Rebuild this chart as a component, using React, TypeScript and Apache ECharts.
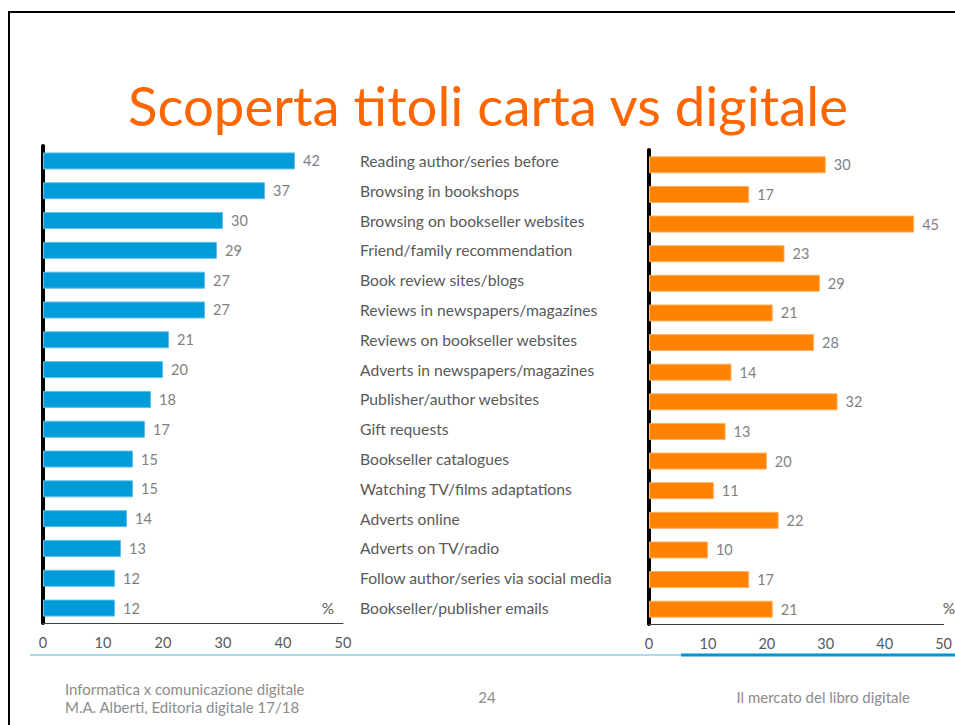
import React, { useEffect, useRef } from "react";
import * as echarts from "echarts";

const categories = [
  "Reading author/series before",
  "Browsing in bookshops",
  "Browsing on bookseller websites",
  "Friend/family recommendation",
  "Book review sites/blogs",
  "Reviews in newspapers/magazines",
  "Reviews on bookseller websites",
  "Adverts in newspapers/magazines",
  "Publisher/author websites",
  "Gift requests",
  "Bookseller catalogues",
  "Watching TV/films adaptations",
  "Adverts online",
  "Adverts on TV/radio",
  "Follow author/series via social media",
  "Bookseller/publisher emails",
];
const paperValues = [42, 37, 30, 29, 27, 27, 21, 20, 18, 17, 15, 15, 14, 13, 12, 12];
const digitalValues = [30, 17, 45, 23, 29, 21, 28, 14, 32, 13, 20, 11, 22, 10, 17, 21];
const axisMin = 0;
const axisMax = 50;
const axisStep = 10;

const FONT = "Lato, 'Open Sans', sans-serif";
const GREY = "#595959";

export default function App() {
  const ref = useRef<HTMLDivElement>(null);
  useEffect(() => {
    if (!ref.current) return;
    const chart = echarts.init(ref.current, undefined, { renderer: "svg" });
    const xAxisCommon = {
      type: "value" as const,
      min: axisMin,
      max: axisMax,
      interval: axisStep,
      axisLine: { show: true, lineStyle: { color: "#404040", width: 1 } },
      axisTick: { show: false },
      splitLine: { show: false },
      axisLabel: { color: GREY, fontSize: 14.5, fontFamily: FONT, margin: 12 },
    };
    const yAxisCommon = {
      type: "category" as const,
      data: categories,
      inverse: true,
      axisTick: { show: false },
      axisLine: { show: true, lineStyle: { color: "#000", width: 4 } },
      axisLabel: { show: false },
    };
    const labelCommon = {
      show: true,
      position: "right" as const,
      distance: 8,
      color: "#7f7f7f",
      fontSize: 14.5,
      fontFamily: FONT,
    };
    chart.setOption({
      animation: false,
      backgroundColor: "#fff",
      textStyle: { fontFamily: FONT },
      grid: [
        { left: 43, width: 300, top: 146, height: 477 },
        { left: 649, width: 296, top: 150, height: 474 },
      ],
      xAxis: [
        { ...xAxisCommon, gridIndex: 0 },
        { ...xAxisCommon, gridIndex: 1 },
      ],
      yAxis: [
        { ...yAxisCommon, gridIndex: 0 },
        { ...yAxisCommon, gridIndex: 1 },
        {
          type: "category",
          gridIndex: 0,
          data: categories,
          inverse: true,
          position: "right",
          axisLine: { show: false },
          axisTick: { show: false },
          axisLabel: {
            show: true,
            align: "left",
            margin: 17,
            color: GREY,
            fontSize: 15.7,
            fontFamily: FONT,
          },
        },
      ],
      series: [
        {
          type: "bar",
          xAxisIndex: 0,
          yAxisIndex: 0,
          data: paperValues,
          barWidth: 17,
          itemStyle: { color: "#009cd9", borderColor: "#5cc0ea", borderWidth: 1 },
          label: labelCommon,
        },
        {
          type: "bar",
          xAxisIndex: 1,
          yAxisIndex: 1,
          data: digitalValues,
          barWidth: 17,
          itemStyle: { color: "#ff8200", borderColor: "#ffb060", borderWidth: 1 },
          label: labelCommon,
        },
      ],
      graphic: [
        {
          type: "rect",
          shape: { x: 9, y: 12, width: 1000, height: 800 },
          style: { fill: "none", stroke: "#000", lineWidth: 2 },
          silent: true,
        },
        {
          type: "text",
          x: 488,
          y: 105,
          style: {
            text: "Scoperta titoli carta vs digitale",
            fill: "#ff6600",
            fontSize: 54.5,
            fontFamily: FONT,
            align: "center",
            verticalAlign: "middle",
          },
        },
        {
          type: "text",
          x: 328,
          y: 608,
          style: { text: "%", fill: GREY, fontSize: 15.5, fontFamily: FONT, align: "center", verticalAlign: "middle" },
        },
        {
          type: "text",
          x: 949,
          y: 608,
          style: { text: "%", fill: GREY, fontSize: 15.5, fontFamily: FONT, align: "center", verticalAlign: "middle" },
        },
        {
          type: "line",
          shape: { x1: 30, y1: 655, x2: 681, y2: 655 },
          style: { stroke: "#5bb4dc", lineWidth: 1 },
        },
        {
          type: "line",
          shape: { x1: 681, y1: 655, x2: 960, y2: 655 },
          style: { stroke: "#0096d6", lineWidth: 3 },
        },
        {
          type: "text",
          x: 65,
          y: 689,
          style: { text: "Informatica x comunicazione digitale", fill: "#8c8c8c", fontSize: 15, fontFamily: FONT, verticalAlign: "middle" },
        },
        {
          type: "text",
          x: 65,
          y: 707,
          style: { text: "M.A. Alberti, Editoria digitale 17/18", fill: "#8c8c8c", fontSize: 15, fontFamily: FONT, verticalAlign: "middle" },
        },
        {
          type: "text",
          x: 487,
          y: 697,
          style: { text: "24", fill: "#8c8c8c", fontSize: 15, fontFamily: FONT, align: "center", verticalAlign: "middle" },
        },
        {
          type: "text",
          x: 910,
          y: 697,
          style: { text: "Il mercato del libro digitale", fill: "#8c8c8c", fontSize: 15, fontFamily: FONT, align: "right", verticalAlign: "middle" },
        },
      ],
    });
    return () => chart.dispose();
  }, []);
  return (
    <div
      ref={ref}
      style={{ position: "fixed", left: 0, top: 0, width: 955, height: 725 }}
    />
  );
}
